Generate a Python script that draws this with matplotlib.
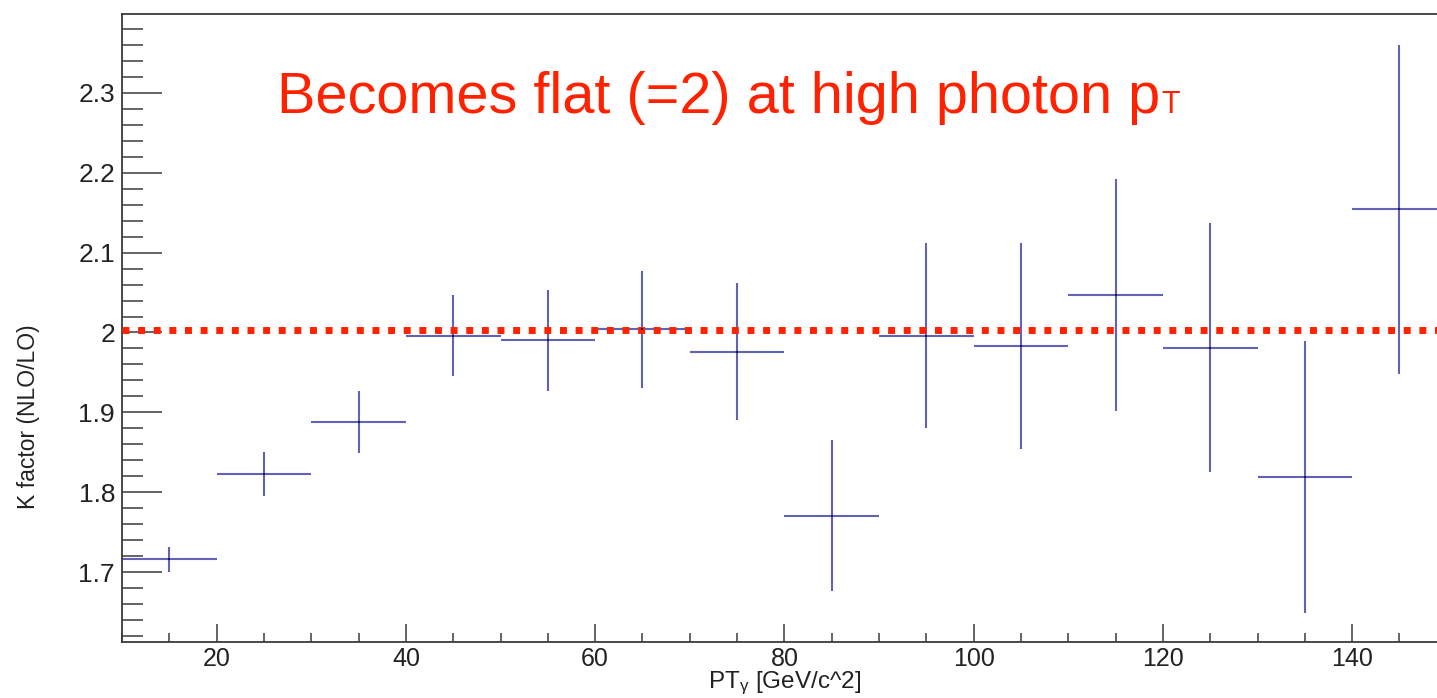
import matplotlib
matplotlib.use("Agg")
import matplotlib.pyplot as plt
from matplotlib.ticker import MultipleLocator, FuncFormatter

plt.rcParams['font.family'] = ['Liberation Sans', 'DejaVu Sans']
plt.rcParams['mathtext.fontset'] = 'custom'
plt.rcParams['mathtext.rm'] = 'Liberation Sans'
plt.rcParams['mathtext.it'] = 'Liberation Sans'

# K factor (NLO/LO) per photon pT bin (bin width 10 GeV)
pt_centers = [15, 25, 35, 45, 55, 65, 75, 85, 95, 105, 115, 125, 135, 145]
k_factor = [1.716, 1.823, 1.888, 1.996, 1.990, 2.004, 1.976, 1.771, 1.996, 1.983,
            2.047, 1.981, 1.819, 2.154]
k_error = [0.016, 0.028, 0.039, 0.051, 0.063, 0.073, 0.086, 0.094, 0.116, 0.129,
           0.145, 0.156, 0.170, 0.206]
bin_half_width = 5
flat_level = 2.003

x_label = r"PT$_{\gamma}$ [GeV/c^2]"
y_label = "K factor (NLO/LO)"
note_main = "Becomes flat (=2) at high photon p"
note_sub = "T"

W, H = 1437, 698
fig = plt.figure(figsize=(W / 100, H / 100), dpi=100)
ax_bottom_px = 641.7
ax_h = ax_bottom_px - 14
ax = fig.add_axes([122 / W, 1 - ax_bottom_px / H, 1324.8 / W, ax_h / H])

red = '#ff2200'
blue = '#6262b8'

# flat reference line
ax.axhline(flat_level, color=red, lw=5.0, linestyle=(0, (1.0, 1.25)),
           dash_capstyle='butt', zorder=3)

ax.errorbar(pt_centers, k_factor, xerr=bin_half_width, yerr=k_error,
            fmt='none', ecolor=blue, elinewidth=1.5, capsize=0, zorder=2)
ax.plot(pt_centers, k_factor, 's', ms=1.6, color='#1a1a60', mew=0, zorder=4)

ax.set_xlim(10, 150)
ax.set_ylim(1.6131, 2.3985)

ax.xaxis.set_major_locator(MultipleLocator(20))
ax.xaxis.set_minor_locator(MultipleLocator(5))
ax.yaxis.set_major_locator(MultipleLocator(0.1))
ax.yaxis.set_minor_locator(MultipleLocator(0.02))
ax.yaxis.set_major_formatter(FuncFormatter(
    lambda v, p: f"{int(round(v))}" if abs(v - round(v)) < 1e-9 else f"{v:.1f}"))

axis_col = '#3a3a3a'
ax.tick_params(axis='both', which='both', direction='in', color=axis_col,
               width=1.1, labelcolor='#222222')
ax.tick_params(axis='y', which='major', length=28.8, pad=5, labelsize=19)
ax.tick_params(axis='y', which='minor', length=15)
ax.tick_params(axis='x', which='major', length=13, pad=4, labelsize=18)
ax.tick_params(axis='x', which='minor', length=6.5)

for side in ['left', 'bottom', 'top']:
    ax.spines[side].set_color(axis_col)
    ax.spines[side].set_linewidth(1.3)
ax.spines['right'].set_visible(False)

ax.set_ylabel(y_label, fontsize=16.5, color='#222222')
ax.yaxis.set_label_coords(-(122 - 40) / 1324.8, (ax_bottom_px - 417) / ax_h)
ax.set_xlabel(x_label, fontsize=17.5, color='#222222', va='bottom')
ax.xaxis.set_label_coords(0.5, -(H - ax_bottom_px - 1) / ax_h)

t = fig.text(277 / W, 1 - 113 / H, note_main, fontsize=41.5, color=red,
             ha='left', va='baseline')
fig.canvas.draw()
bb = t.get_window_extent()
fig.text(bb.x1 / W + 1 / W, 1 - 113 / H, note_sub, fontsize=22, color=red,
         ha='left', va='baseline')

fig.savefig('out.png', dpi=100)
